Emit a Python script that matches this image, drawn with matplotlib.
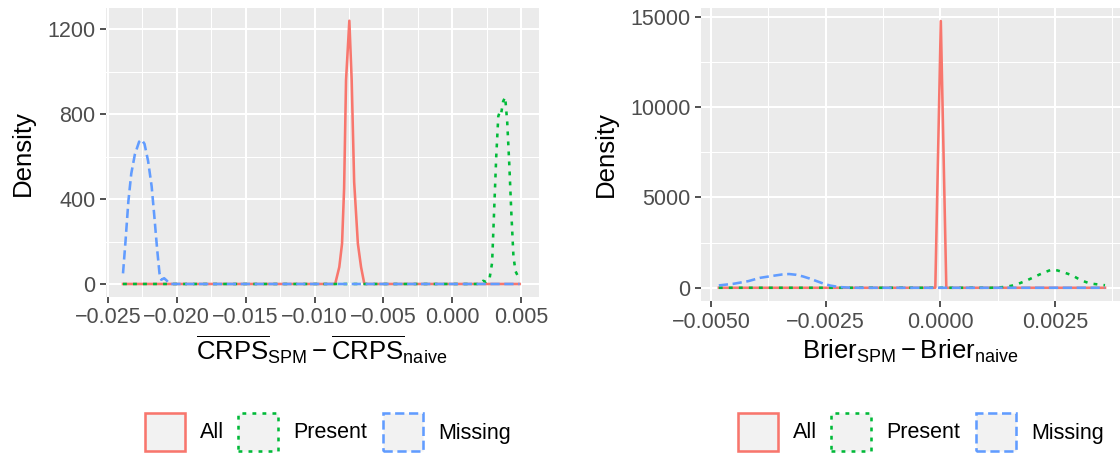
import matplotlib
matplotlib.use("Agg")
import matplotlib.pyplot as plt
from matplotlib.patches import Rectangle

plt.rcParams['font.family'] = ['Liberation Sans', 'DejaVu Sans']
plt.rcParams['mathtext.fontset'] = 'custom'
plt.rcParams['mathtext.rm'] = 'Liberation Sans'
plt.rcParams['mathtext.it'] = 'Liberation Sans:italic'
plt.rcParams['mathtext.bf'] = 'Liberation Sans:bold'

# ---- data: left panel (CRPS difference) ----
crps_all_x = [-0.02391, -0.00850, -0.00820, -0.00800, -0.00785, -0.00771, -0.00747,
              -0.00730, -0.00712, -0.00685, -0.00662, -0.00638, 0.00490]
crps_all_y = [0, 0, 80, 190, 450, 960, 1240, 960, 480, 190, 80, 0, 0]

crps_present_x = [-0.02391, 0.00200, 0.00225, 0.00245, 0.00270, 0.00290, 0.00305, 0.00320,
                  0.00335, 0.00345, 0.00355, 0.00370, 0.00385, 0.00400, 0.00415, 0.00430,
                  0.00445, 0.00460, 0.00475, 0.00490]
crps_present_y = [0, 0, 15, 10, 20, 100, 350, 600, 790, 810, 800, 860, 880, 760, 560, 330,
                  130, 60, 40, 30]

crps_missing_x = [-0.02391, -0.02373, -0.02352, -0.02331, -0.02305, -0.02274, -0.02256,
                  -0.02235, -0.02209, -0.02183, -0.02165, -0.02144, -0.02126, -0.02113,
                  -0.02092, -0.02072, -0.02053, 0.00490]
crps_missing_y = [50, 200, 390, 520, 610, 670, 680, 660, 580, 460, 330, 170, 50, 20, 27, 15, 0, 0]

# ---- data: right panel (Brier difference) ----
brier_all_x = [-0.00483, -0.00011, 0.00001, 0.00013, 0.00359]
brier_all_y = [0, 0, 14760, 0, 0]

brier_present_x = [-0.00483, 0.00110, 0.00125, 0.00140, 0.00155, 0.00170, 0.00185, 0.00200,
                   0.00215, 0.00230, 0.00243, 0.00255, 0.00265, 0.00287, 0.00306, 0.00326,
                   0.00350, 0.00359]
brier_present_y = [0, 0, 15, 45, 110, 220, 370, 540, 720, 880, 1010, 960, 884, 696, 420, 237,
                   166, 140]

brier_missing_x = [-0.00483, -0.00451, -0.00419, -0.00393, -0.00365, -0.00345, -0.00330,
                   -0.00315, -0.00300, -0.00285, -0.00270, -0.00255, -0.00240, -0.00220,
                   -0.00200, -0.00180, 0.00359]
brier_missing_y = [130, 220, 365, 550, 660, 735, 760, 720, 630, 510, 370, 230, 120, 40, 10, 0, 0]

groups = ['All', 'Present', 'Missing']
colors = {'All': '#F8766D', 'Present': '#00BA38', 'Missing': '#619CFF'}
styles = {'All': '-', 'Present': (0, (1.5, 2.4)), 'Missing': (0, (3.6, 1.8))}

crps_xticks = [-0.025, -0.020, -0.015, -0.010, -0.005, 0.000, 0.005]
crps_xlabels = ['\u22120.025', '\u22120.020', '\u22120.015', '\u22120.010', '\u22120.005', '0.000', '0.005']
crps_yticks = [0, 400, 800, 1200]
brier_xticks = [-0.005, -0.0025, 0.0, 0.0025]
brier_xlabels = ['\u22120.0050', '\u22120.0025', '0.0000', '0.0025']
brier_yticks = [0, 5000, 10000, 15000]

LW = 1.85
fig = plt.figure(figsize=(11.2, 4.53), dpi=100)

ax1 = fig.add_axes([0.09438, 0.34547, 0.38688, 0.63642])
ax2 = fig.add_axes([0.62563, 0.33532, 0.37438, 0.64768])


def style_axes(ax, xticks, xlabels, xminor, yticks, yminor):
    ax.set_facecolor('#EBEBEB')
    for s in ax.spines.values():
        s.set_visible(False)
    ax.set_xticks(xticks, xlabels)
    ax.set_yticks(yticks, [str(t) for t in yticks])
    ax.set_xticks(xminor, minor=True)
    ax.set_yticks(yminor, minor=True)
    ax.grid(which='major', color='white', lw=1.45)
    ax.grid(which='minor', color='white', lw=0.75)
    ax.set_axisbelow(True)
    ax.tick_params(which='major', length=4.5, width=1.2, color='#333333',
                   labelsize=15.5, labelcolor='#4D4D4D', pad=3)
    ax.tick_params(which='minor', length=0)


style_axes(ax1, crps_xticks, crps_xlabels,
           [-0.0225, -0.0175, -0.0125, -0.0075, -0.0025, 0.0025],
           crps_yticks, [200, 600, 1000])
style_axes(ax2, brier_xticks, brier_xlabels,
           [-0.00375, -0.00125, 0.00125, 0.00375],
           brier_yticks, [2500, 7500, 12500])

crps = {'All': (crps_all_x, crps_all_y),
        'Present': (crps_present_x, crps_present_y),
        'Missing': (crps_missing_x, crps_missing_y)}
brier = {'All': (brier_all_x, brier_all_y),
         'Present': (brier_present_x, brier_present_y),
         'Missing': (brier_missing_x, brier_missing_y)}

for ax, data in [(ax1, crps), (ax2, brier)]:
    for g in groups:
        x, y = data[g]
        ax.plot(x, y, color=colors[g], linestyle=styles[g], lw=LW)

ax1.set_xlim(-0.025167, 0.006307)
ax1.set_ylim(-59, 1299)
ax2.set_xlim(-0.005225, 0.003917)
ax2.set_ylim(-738, 15498)

# axis titles
fig.text(23 / 1120, 1 - 153 / 453, 'Density', rotation=90, ha='center', va='center', fontsize=18.5)
fig.text(606 / 1120, 1 - 154 / 453, 'Density', rotation=90, ha='center', va='center', fontsize=18.5)
fig.text(322 / 1120, 1 - 360 / 453,
         r'$\overline{\mathrm{CRPS}}_{\mathrm{SPM}} - \overline{\mathrm{CRPS}}_{\mathrm{naive}}$',
         ha='center', va='baseline', fontsize=18.5)
fig.text(910 / 1120, 1 - 359 / 453,
         r'$\mathrm{Brier}_{\mathrm{SPM}} - \mathrm{Brier}_{\mathrm{naive}}$',
         ha='center', va='baseline', fontsize=18.5)


# legends (one under each panel)
def draw_legend(x0):
    offsets = [0, 93, 238]
    for g, off in zip(groups, offsets):
        bx = x0 + off
        fig.add_artist(Rectangle((bx / 1120, 1 - 451 / 453), 40 / 1120, 38 / 453,
                                 transform=fig.transFigure, facecolor='#F2F2F2',
                                 edgecolor=colors[g], linestyle=styles[g], lw=LW))
        fig.text((bx + 55) / 1120, 1 - 433 / 453, g, ha='left', va='center',
                 fontsize=15.5, color='black')


draw_legend(145)
draw_legend(738)

fig.savefig('out.png', dpi=100)
